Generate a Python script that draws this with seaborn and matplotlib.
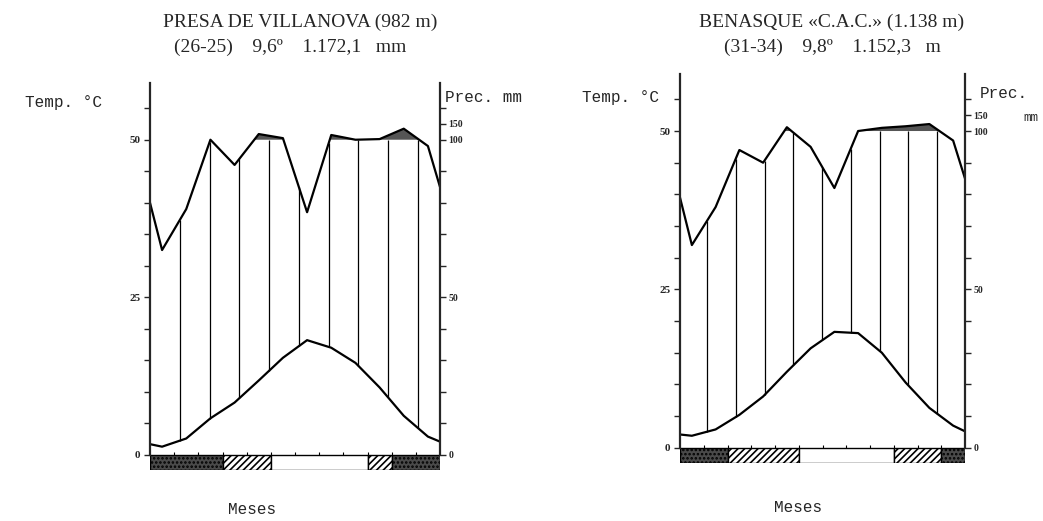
import numpy as np
import matplotlib
matplotlib.use("Agg")
import matplotlib.pyplot as plt
import seaborn as sns

# monthly means (Jan..Dec), plus the values drawn at the frame edges
meses = ["Ene", "Feb", "Mar", "Abr", "May", "Jun", "Jul", "Ago", "Sep", "Oct", "Nov", "Dic"]

temp_villanova = [1.3, 2.6, 5.8, 8.3, 11.8, 15.4, 18.2, 17.0, 14.6, 10.7, 6.2, 2.9]
temp_villanova_bordes = [1.7, 2.1]
prec_villanova = [65, 78, 100, 92, 118, 105, 77, 115, 100, 102, 135, 98]
prec_villanova_bordes = [80, 85]

temp_benasque = [1.9, 2.9, 5.2, 8.1, 12.0, 15.7, 18.3, 18.1, 15.0, 10.3, 6.3, 3.5]
temp_benasque_bordes = [2.1, 2.6]
prec_benasque = [64, 76, 94, 90, 112, 95, 82, 100, 110, 115, 122, 97]
prec_benasque_bordes = [79, 85]

# frost bar: (start month, end month, kind)  kind: 'seguro', 'probable', 'libre'
heladas_villanova = [(0, 3, "seguro"), (3, 5, "probable"), (5, 9, "libre"),
                     (9, 10, "probable"), (10, 12, "seguro")]
heladas_benasque = [(0, 2, "seguro"), (2, 5, "probable"), (5, 9, "libre"),
                    (9, 11, "probable"), (11, 12, "seguro")]

W, H = 1043, 521
sns.set_style("white")
plt.rcParams["font.family"] = ["Liberation Serif", "DejaVu Serif"]
plt.rcParams["hatch.linewidth"] = 1.2
fig = plt.figure(figsize=(W / 100, H / 100), dpi=100)


def escala_prec(p):
    p = np.asarray(p, dtype=float)
    return np.where(p <= 100, p / 2, 50 + (p - 100) / 20)


def diagrama(rect, temp, temp_b, prec, prec_b, heladas, paso, inicio):
    ax = fig.add_axes(rect)
    xs = np.concatenate([[0], np.arange(12) + 0.5, [12]])
    t = np.concatenate([[temp_b[0]], temp, [temp_b[1]]])
    p = escala_prec(np.concatenate([[prec_b[0]], prec, [prec_b[1]]]))

    # humid period: vertical lines between curves
    for xv in np.arange(inicio, 11.6, paso):
        ax.vlines(xv, np.interp(xv, xs, t), min(np.interp(xv, xs, p), 50),
                  color="black", lw=0.9)
    ax.fill_between(xs, 50, p, where=p > 50, interpolate=True,
                    color="#555555", lw=0)

    sns.lineplot(x=xs, y=p, ax=ax, color="black", lw=1.6)
    sns.lineplot(x=xs, y=t, ax=ax, color="black", lw=1.6)

    # frost bar
    for a, b, tipo in heladas:
        if tipo == "seguro":
            ax.bar(a, -2.4, width=b - a, align="edge", color="#4a4a4a",
                   edgecolor="black", hatch="....", lw=1)
        elif tipo == "probable":
            ax.bar(a, -2.4, width=b - a, align="edge", color="white",
                   edgecolor="black", hatch="/////", lw=1)
        else:
            ax.bar(a, -2.4, width=b - a, align="edge", color="white",
                   edgecolor="black", lw=1)
    ax.vlines(np.arange(1, 12), 0, 0.5, color="black", lw=0.8)

    ax.set_xlim(0, 12)
    ax.set_ylim(-2.4, 59)
    for s in ["top", "bottom"]:
        ax.spines[s].set_visible(False)
    ax.spines["left"].set_bounds(0, 59)
    ax.spines["left"].set_linewidth(1.6)
    ax.spines["right"].set_visible(False)
    ax.set_xticks([])
    ax.set_yticks([0, 25, 50])
    ax.set_yticklabels(["0", "25", "50"], fontsize=8, fontweight="bold")
    ax.set_yticks(np.arange(0, 56, 5), minor=True)
    ax.tick_params(axis="y", which="both", direction="out", length=4,
                   width=1, pad=3, left=True)

    ax2 = ax.twinx()
    ax2.set_ylim(ax.get_ylim())
    for s in ["top", "bottom", "left"]:
        ax2.spines[s].set_visible(False)
    ax2.spines["right"].set_bounds(0, 59)
    ax2.spines["right"].set_linewidth(1.6)
    ax2.set_yticks([0, 25, 50, 52.5])
    ax2.set_yticklabels(["0", "50", "100", "150"], fontsize=7, fontweight="bold")
    ax2.set_yticks(np.arange(0, 56, 5), minor=True)
    ax2.tick_params(axis="y", which="both", direction="out", length=4,
                    width=1, pad=2, right=True)
    ax2.set_xticks([])
    return ax


def fpos(x, y):
    return x / W, 1 - y / H


diagrama([150 / W, 51 / H, 290 / W, 387 / H], temp_villanova, temp_villanova_bordes,
         prec_villanova, prec_villanova_bordes, heladas_villanova, 1.23, 1.24)
diagrama([680 / W, 58 / H, 285 / W, 389 / H], temp_benasque, temp_benasque_bordes,
         prec_benasque, prec_benasque_bordes, heladas_benasque, 1.21, 1.14)

mono = ["Liberation Mono", "DejaVu Sans Mono"]
fig.text(*fpos(300, 22), "PRESA DE VILLANOVA (982 m)", ha="center", va="center", fontsize=14)
fig.text(*fpos(290, 47), "(26-25)    9,6º    1.172,1   mm", ha="center", va="center", fontsize=14)
fig.text(*fpos(832, 22), "BENASQUE «C.A.C.» (1.138 m)", ha="center", va="center", fontsize=14)
fig.text(*fpos(832, 47), "(31-34)    9,8º    1.152,3   m", ha="center", va="center", fontsize=14)

fig.text(*fpos(25, 103), "Temp. °C", ha="left", va="center", fontsize=11.5, family=mono)
fig.text(*fpos(582, 97), "Temp. °C", ha="left", va="center", fontsize=11.5, family=mono)
fig.text(*fpos(445, 97), "Prec. mm", ha="left", va="center", fontsize=11.5, family=mono)
fig.text(*fpos(980, 93), "Prec.", ha="left", va="center", fontsize=11.5, family=mono)
fig.text(*fpos(1023, 118), "mm", ha="left", va="center", fontsize=9, family=mono)
fig.text(*fpos(252, 510), "Meses", ha="center", va="center", fontsize=11.5, family=mono)
fig.text(*fpos(798, 508), "Meses", ha="center", va="center", fontsize=11.5, family=mono)

fig.savefig("out.png", dpi=100)
